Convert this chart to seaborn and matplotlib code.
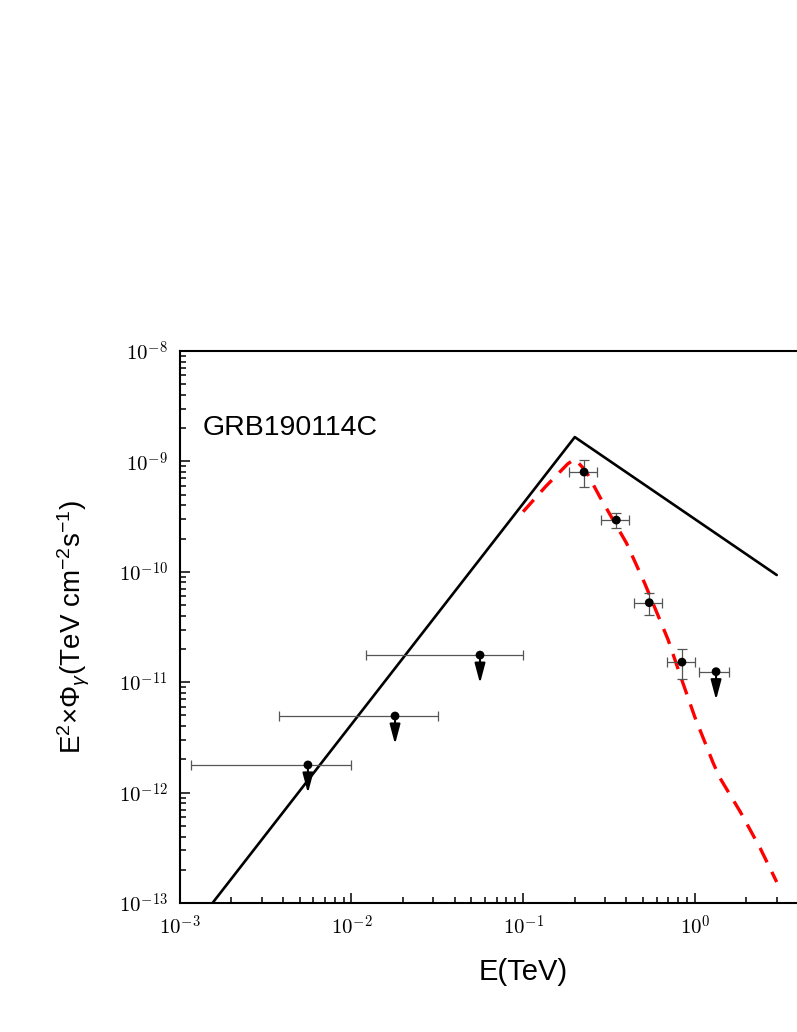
import numpy as np
import pandas as pd
import matplotlib
matplotlib.use("Agg")
import matplotlib.pyplot as plt
import matplotlib.ticker as mticker
import seaborn as sns

# ----------------------------- #
#  Data
# ----------------------------- #
# broken power-law model (black solid)
model_E = [1e-3, 0.2, 3.0]
model_F = [4.15e-14, 1.66e-9, 9.35e-11]

# absorbed model (red dashed)
absorb_E = [0.1, 0.135, 0.182, 0.2, 0.232, 0.28, 0.4, 0.51, 0.7, 0.84,
            1.0, 1.28, 1.4, 1.84, 2.4, 3.0]
absorb_F = [3.5e-10, 5.9e-10, 9.5e-10, 1.05e-9, 8.2e-10, 4.76e-10, 1.82e-10,
            7.9e-11, 2.41e-11, 1.05e-11, 4.84e-12, 1.85e-12, 1.36e-12,
            6.7e-13, 3.15e-13, 1.55e-13]

# measured points
det_E = [0.2265, 0.349, 0.543, 0.842]
det_Elo = [0.185, 0.286, 0.443, 0.686]
det_Ehi = [0.270, 0.414, 0.647, 1.00]
det_F = [8.0e-10, 2.94e-10, 5.25e-11, 1.52e-11]
det_Flo = [5.86e-10, 2.48e-10, 4.06e-11, 1.06e-11]
det_Fhi = [1.03e-9, 3.39e-10, 6.38e-11, 1.98e-11]

# upper limits
ul_E = [5.58e-3, 0.01795, 0.0561, 1.33]
ul_Elo = [1.16e-3, 3.8e-3, 0.01217, 1.06]
ul_Ehi = [1.0e-2, 0.032, 0.100, 1.585]
ul_F = [1.78e-12, 4.94e-12, 1.76e-11, 1.245e-11]

x_major = [1e-3, 1e-2, 1e-1, 1e0]

# ----------------------------- #
#  Style
# ----------------------------- #
sns.set_theme(style="white")
plt.rcParams["font.family"] = ["Liberation Sans", "DejaVu Sans"]
plt.rcParams["text.color"] = "black"
plt.rcParams["axes.labelcolor"] = "black"
plt.rcParams["xtick.color"] = "black"
plt.rcParams["ytick.color"] = "black"
plt.rcParams["mathtext.fontset"] = "cm"
plt.rcParams["mathtext.rm"] = "Liberation Sans"
plt.rcParams["mathtext.it"] = "Liberation Sans:italic"
plt.rcParams["mathtext.sf"] = "Liberation Sans"
plt.rcParams["mathtext.bf"] = "Liberation Sans:bold"

fig = plt.figure(figsize=(7.97, 10.32), dpi=100)
ax = fig.add_axes([0.2255, 0.125, 0.8617, 0.5349])

# ----------------------------- #
#  Model curves
# ----------------------------- #
sns.lineplot(x=model_E, y=model_F, ax=ax, color="black", lw=1.9,
             estimator=None, sort=False)
sns.lineplot(x=absorb_E, y=absorb_F, ax=ax, color="#ff0000", lw=2.4,
             estimator=None, sort=False, dashes=False)
ax.lines[-1].set_linestyle((0, (4.8, 3.2)))

# ----------------------------- #
#  Data points
# ----------------------------- #
det_E_a = np.array(det_E)
det_F_a = np.array(det_F)
ax.errorbar(det_E_a, det_F_a,
            xerr=[det_E_a - np.array(det_Elo), np.array(det_Ehi) - det_E_a],
            yerr=[det_F_a - np.array(det_Flo), np.array(det_Fhi) - det_F_a],
            fmt="none", ecolor="#555555", elinewidth=0.9, capsize=3.3,
            capthick=0.9, zorder=3)

ul_E_a = np.array(ul_E)
ul_F_a = np.array(ul_F)
ax.errorbar(ul_E_a, ul_F_a,
            xerr=[ul_E_a - np.array(ul_Elo), np.array(ul_Ehi) - ul_E_a],
            fmt="none", ecolor="#555555", elinewidth=0.9, capsize=3.3,
            capthick=0.9, zorder=3)

for e, f in zip(ul_E, ul_F):
    ax.annotate("", xy=(e, f / 1.8), xytext=(e, f),
                arrowprops=dict(arrowstyle="-|>,head_length=0.6,head_width=0.16",
                                color="black", lw=1.5, shrinkA=0, shrinkB=0,
                                mutation_scale=20),
                zorder=4)

sns.scatterplot(x=det_E + ul_E, y=det_F + ul_F, ax=ax, color="black",
                s=40, edgecolor="none", zorder=5)

# ----------------------------- #
#  Axes
# ----------------------------- #
ax.set_xscale("log")
ax.set_yscale("log")
ax.set_xlim(1e-3, 1e1)
ax.set_ylim(1e-13, 1e-8)

fmt = mticker.FuncFormatter(lambda v, p: r"$10^{%d}$" % round(np.log10(v)))
ax.xaxis.set_major_locator(mticker.FixedLocator(x_major))
ax.yaxis.set_major_locator(mticker.LogLocator(base=10, numticks=20))
for axis in (ax.xaxis, ax.yaxis):
    axis.set_minor_locator(mticker.LogLocator(base=10, subs=np.arange(2, 10), numticks=20))
    axis.set_major_formatter(fmt)
    axis.set_minor_formatter(mticker.NullFormatter())

ax.tick_params(which="both", direction="in", top=False, right=False,
               bottom=True, left=True, color="black", width=1.1)
ax.tick_params(which="major", length=7, labelsize=15, pad=8.5)
ax.tick_params(which="minor", length=4)

for s in ax.spines.values():
    s.set_linewidth(1.5)
    s.set_color("black")

ax.set_xlabel("E(TeV)", fontsize=21, labelpad=14)
ax.set_ylabel(r"E$^2$×$\Phi_\gamma$(TeV cm$^{-2}$s$^{-1}$)", fontsize=20,
              math_fontfamily="custom", labelpad=19)

ax.text(0.034, 0.848, "GRB190114C", transform=ax.transAxes, fontsize=20.5,
        ha="left", va="baseline")

plt.savefig("out.png", dpi=100)
